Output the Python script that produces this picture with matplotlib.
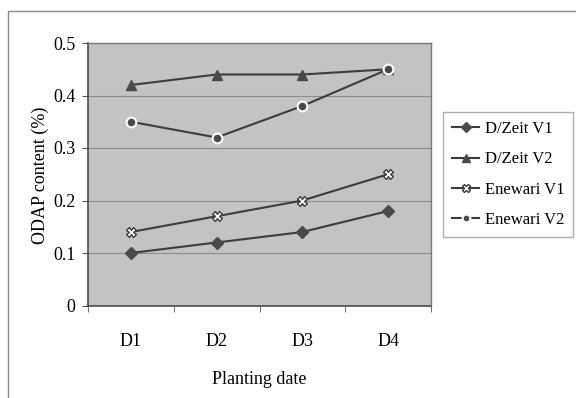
import matplotlib

matplotlib.use("Agg")

import matplotlib.pyplot as plt
from matplotlib.patches import Rectangle

# ODAP content by planting date for two varieties per location
dates = ["D1", "D2", "D3", "D4"]
dzeit_v1 = [0.10, 0.12, 0.14, 0.18]
dzeit_v2 = [0.42, 0.44, 0.44, 0.45]
enewari_v1 = [0.14, 0.17, 0.20, 0.25]
enewari_v2 = [0.35, 0.32, 0.38, 0.45]
y_ticks = [0, 0.1, 0.2, 0.3, 0.4, 0.5]
y_labels = ["0", "0.1", "0.2", "0.3", "0.4", "0.5"]

plt.rcParams["font.family"] = ["Liberation Serif", "DejaVu Serif"]

W, H = 576, 398
fig = plt.figure(figsize=(W / 100, H / 100), dpi=100)

# outer chart frame (open at right and bottom)
fig.patches.append(Rectangle((8 / W, -0.05), 1.2, 1 - 11 / H + 0.05,
                             transform=fig.transFigure, fill=False,
                             edgecolor="#8a8a8a", linewidth=1.0))

ax = fig.add_axes([88 / W, 1 - 305.5 / H, (431 - 88) / W, (305.5 - 43) / H])
ax.set_facecolor("#c3c3c3")

x = range(1, len(dates) + 1)
line = "#3c3c3c"
ax.plot(x, dzeit_v1, "-D", color=line, lw=1.5, ms=6,
        mfc="#4a4a4a", mec="#4a4a4a", label="D/Zeit V1")
ax.plot(x, dzeit_v2, "-^", color=line, lw=1.5, ms=7,
        mfc="#4a4a4a", mec="#4a4a4a", label="D/Zeit V2")
ax.plot(x, enewari_v1, "-X", color=line, lw=1.5, ms=7,
        mfc="white", mec="#3c3c3c", mew=1.0, label="Enewari V1")
ax.plot(x, enewari_v2, "-o", color=line, lw=1.5, ms=7,
        mfc="#4a4a4a", mec="white", mew=1.5, label="Enewari V2")

ax.set_xlim(0.5, 4.5)
ax.set_ylim(0, 0.5)
ax.set_yticks(y_ticks)
ax.set_yticklabels(y_labels)
ax.set_xticks(list(x))
ax.set_xticklabels(dates)
ax.set_xticks([0.5, 1.5, 2.5, 3.5, 4.5], minor=True)
ax.tick_params(axis="x", which="major", length=0, pad=20, labelsize=13)
ax.tick_params(axis="x", which="minor", length=4, color="#555555")
ax.tick_params(axis="y", length=4, pad=5, labelsize=13, color="#555555")

ax.grid(axis="y", color="#8c8c8c", linewidth=0.8)
ax.set_axisbelow(True)
for side in ["left", "bottom"]:
    ax.spines[side].set_color("#4a4a4a")
    ax.spines[side].set_linewidth(1.2)
for side in ["top", "right"]:
    ax.spines[side].set_color("#7a7a7a")
    ax.spines[side].set_linewidth(1.0)

fig.text(40 / W, 1 - 175 / H, "ODAP content (%)", rotation=90,
         ha="center", va="center", fontsize=13)
fig.text(259.5 / W, 1 - 379 / H, "Planting date",
         ha="center", va="center", fontsize=13)

leg = fig.legend(loc="upper left", bbox_to_anchor=(443 / W, 1 - 112 / H),
                 bbox_transform=fig.transFigure, frameon=True, fancybox=False,
                 fontsize=12, handlelength=1.6, handletextpad=0.35,
                 labelspacing=0.85, borderpad=0.55, borderaxespad=0,
                 markerscale=0.8)
leg.get_frame().set_edgecolor("#9a9a9a")
leg.get_frame().set_linewidth(1.0)

fig.savefig("out.png", dpi=100)
